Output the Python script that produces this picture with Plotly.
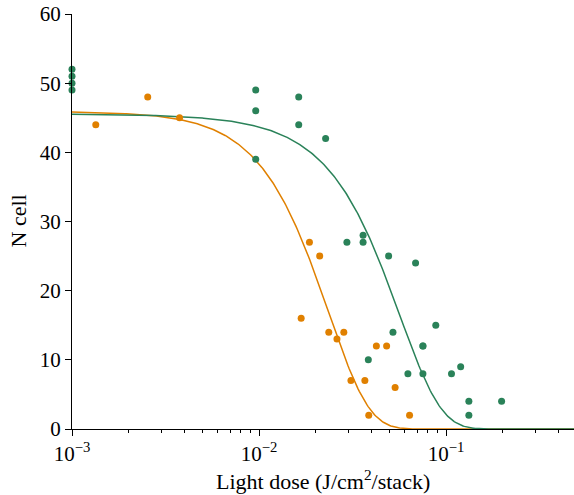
import numpy as np
import plotly.graph_objects as go

# Green series (light dose J/cm2/stack, N cell)
green_dose = [0.001, 0.001, 0.001, 0.001,
              0.0096, 0.0096, 0.0096,
              0.0163, 0.0163, 0.0227,
              0.0295, 0.0360, 0.0360, 0.0384,
              0.0493, 0.0520, 0.0625, 0.0687,
              0.0752, 0.0752, 0.0752, 0.0881,
              0.1069, 0.1197, 0.1324, 0.1324, 0.1981]
green_n = [49, 50, 51, 52,
           49, 46, 39,
           48, 44, 42,
           27, 28, 27, 10,
           25, 14, 8, 24,
           12, 12, 8, 15,
           8, 9, 4, 2, 4]

# Orange series
orange_dose = [0.00134, 0.00254, 0.00376,
               0.0168, 0.0186, 0.0211, 0.0236, 0.0261, 0.0284,
               0.0310, 0.0368, 0.0386, 0.0424, 0.0481, 0.0534, 0.0638]
orange_n = [44, 48, 45,
            16, 27, 25, 14, 13, 14,
            7, 7, 2, 12, 12, 6, 2]

# Fitted survival curves: N = N0 * exp(-alpha*D - beta*D^2)
green_fit = dict(n0=45.6, alpha=1.4, beta=294.0)
orange_fit = dict(n0=45.9, alpha=0.0, beta=1806.0)

x_ticks = [0.001, 0.01, 0.1]
x_ticktext = ["10<sup>−3</sup>", "10<sup>−2</sup>", "10<sup>−1</sup>"]
y_ticks = [0, 10, 20, 30, 40, 50, 60]

GREEN = "#2a8259"
ORANGE = "#e08000"
FONT = "Liberation Serif, Times New Roman, serif"

dose_curve = np.logspace(-3, -0.3, 400)


def model(p, d):
    return p["n0"] * np.exp(-p["alpha"] * d - p["beta"] * d ** 2)


fig = go.Figure()
fig.add_trace(go.Scatter(x=dose_curve, y=model(orange_fit, dose_curve), mode="lines",
                         line=dict(color=ORANGE, width=1.5), showlegend=False, hoverinfo="skip"))
fig.add_trace(go.Scatter(x=dose_curve, y=model(green_fit, dose_curve), mode="lines",
                         line=dict(color=GREEN, width=1.5), showlegend=False, hoverinfo="skip"))
fig.add_trace(go.Scatter(x=orange_dose, y=orange_n, mode="markers",
                         marker=dict(color=ORANGE, size=7), showlegend=False, cliponaxis=False))
fig.add_trace(go.Scatter(x=green_dose, y=green_n, mode="markers",
                         marker=dict(color=GREEN, size=7), showlegend=False, cliponaxis=False))

minor_vals = [m * 10.0 ** e for e in (-3, -2, -1) for m in range(2, 10) if m * 10.0 ** e < 0.49]

fig.update_layout(
    width=574, height=495,
    margin=dict(l=72, r=0, t=14, b=66),
    plot_bgcolor="white", paper_bgcolor="white",
    font=dict(family=FONT, size=21, color="black"),
    xaxis=dict(type="log", range=[-3, -0.316], tickvals=x_ticks, ticktext=x_ticktext,
               ticks="outside", ticklen=6, tickwidth=1, tickcolor="black",
               showline=True, linecolor="black", linewidth=1, showgrid=False, zeroline=False,
               minor=dict(tickvals=minor_vals, ticks="outside", ticklen=3, tickcolor="black", showgrid=False),
               automargin=False),
    yaxis=dict(range=[0, 60], tickvals=y_ticks, ticks="outside", ticklen=6, tickwidth=1,
               tickcolor="black", showline=True, linecolor="black", linewidth=1,
               showgrid=False, zeroline=False, automargin=False),
    annotations=[
        dict(text="Light dose (J/cm<sup>2</sup>/stack)", xref="paper", yref="paper",
             x=0.5, y=0, yanchor="middle", xanchor="center", yshift=-51,
             showarrow=False, font=dict(family=FONT, size=22)),
        dict(text="N cell", xref="paper", yref="paper", x=0, y=0.5,
             xanchor="center", yanchor="middle", xshift=-54, textangle=-90,
             showarrow=False, font=dict(family=FONT, size=22)),
    ],
)

fig.write_html("out.html", config={"displayModeBar": False},
               post_script="document.body.style.margin='0';document.body.style.overflow='hidden';")
